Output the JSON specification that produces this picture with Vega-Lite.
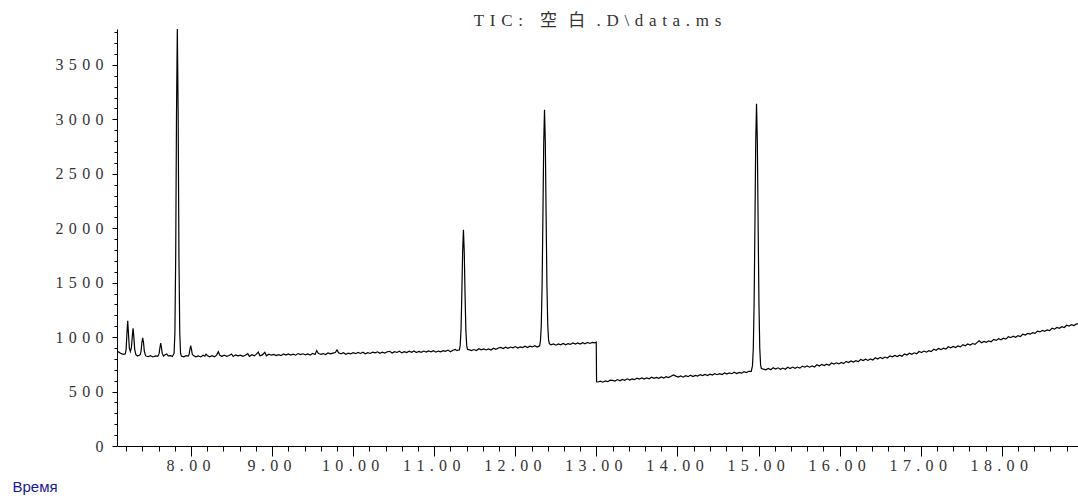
{
  "$schema": "https://vega.github.io/schema/vega-lite/v6.json",
  "width": 961,
  "height": 417,
  "autosize": {"type": "none"},
  "padding": {"left": 117, "top": 29, "right": 0, "bottom": 50},
  "background": "white",
  "title": {
    "text": "T\u2004I\u2004C\u2004:\u2004\u2004\u2004空\u2004\u2004白\u2004\u2004.\u2004D\u2004\\\u2004d\u2004a\u2004t\u2004a\u2004.\u2004m\u2004s",
    "font": "Liberation Serif, Noto Sans CJK JP",
    "fontSize": 17,
    "fontWeight": "normal",
    "color": "#333333",
    "anchor": "middle",
    "frame": "group",
    "offset": -1
  },
  "config": {
    "view": {"stroke": null},
    "axis": {
      "grid": false,
      "domainColor": "#000000",
      "tickColor": "#000000",
      "domainWidth": 1,
      "tickWidth": 1,
      "labelFont": "Liberation Serif",
      "labelFontSize": 16,
      "labelColor": "#333333"
    }
  },
  "data": {
    "values": [
      {"t":7.09,"v":868},{"t":7.11,"v":862},{"t":7.13,"v":852},{"t":7.15,"v":846},{"t":7.17,"v":842},
      {"t":7.189,"v":846},{"t":7.199,"v":882},{"t":7.209,"v":1026},{"t":7.219,"v":1149},{"t":7.229,"v":1026},
      {"t":7.239,"v":900},{"t":7.252,"v":868},{"t":7.265,"v":905},{"t":7.275,"v":1000},{"t":7.285,"v":1082},
      {"t":7.295,"v":1000},{"t":7.305,"v":890},{"t":7.32,"v":838},{"t":7.34,"v":826},{"t":7.36,"v":834},
      {"t":7.374,"v":840},{"t":7.384,"v":872},{"t":7.394,"v":950},{"t":7.404,"v":993},{"t":7.414,"v":950},
      {"t":7.424,"v":870},{"t":7.44,"v":828},{"t":7.47,"v":820},{"t":7.50,"v":830},{"t":7.53,"v":818},
      {"t":7.56,"v":828},{"t":7.59,"v":824},{"t":7.606,"v":848},{"t":7.616,"v":900},{"t":7.626,"v":944},
      {"t":7.636,"v":900},{"t":7.646,"v":848},{"t":7.66,"v":826},{"t":7.68,"v":838},{"t":7.70,"v":845},
      {"t":7.72,"v":828},{"t":7.75,"v":830},{"t":7.77,"v":822},{"t":7.791,"v":852},{"t":7.801,"v":1035},
      {"t":7.811,"v":1748},{"t":7.821,"v":3060},{"t":7.831,"v":3830},{"t":7.841,"v":3060},{"t":7.851,"v":1748},
      {"t":7.861,"v":1035},{"t":7.871,"v":852},{"t":7.881,"v":826},{"t":7.91,"v":819},{"t":7.94,"v":829},
      {"t":7.965,"v":826},{"t":7.976,"v":840},{"t":7.986,"v":885},{"t":7.996,"v":922},{"t":8.006,"v":885},
      {"t":8.016,"v":842},{"t":8.03,"v":830},{"t":8.06,"v":819},{"t":8.09,"v":828},{"t":8.12,"v":818},
      {"t":8.15,"v":833},{"t":8.17,"v":824},{"t":8.185,"v":843},{"t":8.20,"v":831},{"t":8.23,"v":820},
      {"t":8.26,"v":829},{"t":8.29,"v":819},{"t":8.315,"v":835},{"t":8.337,"v":867},{"t":8.355,"v":832},
      {"t":8.38,"v":823},{"t":8.41,"v":834},{"t":8.44,"v":823},{"t":8.47,"v":831},{"t":8.50,"v":845},
      {"t":8.52,"v":822},{"t":8.55,"v":837},{"t":8.58,"v":828},{"t":8.61,"v":835},{"t":8.64,"v":824},
      {"t":8.67,"v":833},{"t":8.70,"v":848},{"t":8.72,"v":823},{"t":8.75,"v":839},{"t":8.78,"v":828},
      {"t":8.80,"v":839},{"t":8.83,"v":862},{"t":8.85,"v":829},{"t":8.88,"v":837},{"t":8.91,"v":860},
      {"t":8.93,"v":828},{"t":8.96,"v":843},{"t":8.99,"v":834},{"t":9.02,"v":841},{"t":9.05,"v":831},
      {"t":9.08,"v":839},{"t":9.11,"v":830},{"t":9.14,"v":845},{"t":9.17,"v":835},{"t":9.20,"v":845},
      {"t":9.23,"v":835},{"t":9.26,"v":843},{"t":9.29,"v":834},{"t":9.32,"v":849},{"t":9.35,"v":840},
      {"t":9.38,"v":847},{"t":9.41,"v":837},{"t":9.44,"v":845},{"t":9.47,"v":836},{"t":9.50,"v":851},
      {"t":9.53,"v":841},{"t":9.55,"v":876},{"t":9.57,"v":851},{"t":9.60,"v":841},{"t":9.63,"v":849},
      {"t":9.66,"v":840},{"t":9.69,"v":855},{"t":9.72,"v":846},{"t":9.75,"v":853},{"t":9.78,"v":859},
      {"t":9.80,"v":882},{"t":9.82,"v":856},{"t":9.85,"v":846},{"t":9.88,"v":857},{"t":9.91,"v":843},
      {"t":9.94,"v":853},{"t":9.97,"v":846},{"t":10.00,"v":857},{"t":10.03,"v":848},{"t":10.06,"v":859},
      {"t":10.09,"v":850},{"t":10.12,"v":861},{"t":10.15,"v":847},{"t":10.18,"v":857},{"t":10.21,"v":850},
      {"t":10.24,"v":861},{"t":10.27,"v":855},{"t":10.30,"v":865},{"t":10.33,"v":851},{"t":10.36,"v":861},
      {"t":10.39,"v":854},{"t":10.42,"v":865},{"t":10.45,"v":870},{"t":10.48,"v":854},{"t":10.51,"v":866},
      {"t":10.54,"v":859},{"t":10.57,"v":870},{"t":10.60,"v":855},{"t":10.63,"v":866},{"t":10.66,"v":858},
      {"t":10.69,"v":870},{"t":10.72,"v":860},{"t":10.75,"v":872},{"t":10.78,"v":858},{"t":10.81,"v":868},
      {"t":10.84,"v":861},{"t":10.87,"v":872},{"t":10.90,"v":863},{"t":10.93,"v":874},{"t":10.96,"v":865},
      {"t":10.99,"v":876},{"t":11.02,"v":862},{"t":11.05,"v":872},{"t":11.08,"v":865},{"t":11.11,"v":876},
      {"t":11.14,"v":870},{"t":11.17,"v":881},{"t":11.20,"v":866},{"t":11.23,"v":880},{"t":11.26,"v":888},
      {"t":11.28,"v":876},{"t":11.30,"v":882},{"t":11.31,"v":883},{"t":11.32,"v":924},{"t":11.33,"v":1064},
      {"t":11.34,"v":1386},{"t":11.35,"v":1785},{"t":11.36,"v":1985},{"t":11.37,"v":1785},{"t":11.38,"v":1386},
      {"t":11.39,"v":1064},{"t":11.40,"v":924},{"t":11.41,"v":886},{"t":11.43,"v":885},{"t":11.46,"v":876},
      {"t":11.49,"v":886},{"t":11.52,"v":877},{"t":11.55,"v":893},{"t":11.58,"v":884},{"t":11.61,"v":892},
      {"t":11.64,"v":882},{"t":11.67,"v":891},{"t":11.70,"v":882},{"t":11.73,"v":898},{"t":11.76,"v":888},
      {"t":11.79,"v":900},{"t":11.82,"v":906},{"t":11.85,"v":895},{"t":11.88,"v":908},{"t":11.91,"v":897},
      {"t":11.94,"v":909},{"t":11.97,"v":901},{"t":12.00,"v":913},{"t":12.03,"v":899},{"t":12.06,"v":911},
      {"t":12.09,"v":904},{"t":12.12,"v":916},{"t":12.15,"v":905},{"t":12.18,"v":917},{"t":12.21,"v":910},
      {"t":12.24,"v":922},{"t":12.27,"v":909},{"t":12.30,"v":920},{"t":12.31,"v":968},{"t":12.32,"v":1106},
      {"t":12.33,"v":1464},{"t":12.34,"v":2092},{"t":12.35,"v":2778},{"t":12.36,"v":3088},{"t":12.37,"v":2780},
      {"t":12.38,"v":2095},{"t":12.39,"v":1470},{"t":12.40,"v":1110},{"t":12.41,"v":975},{"t":12.42,"v":940},
      {"t":12.44,"v":930},{"t":12.47,"v":937},{"t":12.50,"v":926},{"t":12.53,"v":938},{"t":12.56,"v":930},
      {"t":12.59,"v":942},{"t":12.62,"v":929},{"t":12.65,"v":940},{"t":12.68,"v":933},{"t":12.71,"v":947},
      {"t":12.74,"v":937},{"t":12.77,"v":947},{"t":12.80,"v":936},{"t":12.83,"v":948},{"t":12.86,"v":939},
      {"t":12.89,"v":952},{"t":12.92,"v":942},{"t":12.95,"v":951},{"t":12.98,"v":947},{"t":12.998,"v":955},
      {"t":13.002,"v":590},{"t":13.02,"v":588},{"t":13.05,"v":596},{"t":13.08,"v":586},{"t":13.11,"v":598},
      {"t":13.14,"v":591},{"t":13.17,"v":604},{"t":13.20,"v":602},{"t":13.23,"v":597},{"t":13.26,"v":610},
      {"t":13.29,"v":599},{"t":13.32,"v":612},{"t":13.35,"v":604},{"t":13.38,"v":617},{"t":13.41,"v":605},
      {"t":13.44,"v":616},{"t":13.47,"v":609},{"t":13.50,"v":623},{"t":13.53,"v":614},{"t":13.56,"v":625},
      {"t":13.59,"v":614},{"t":13.62,"v":626},{"t":13.65,"v":617},{"t":13.68,"v":631},{"t":13.71,"v":621},
      {"t":13.74,"v":630},{"t":13.77,"v":621},{"t":13.80,"v":634},{"t":13.83,"v":624},{"t":13.86,"v":636},
      {"t":13.89,"v":628},{"t":13.92,"v":640},{"t":13.95,"v":652},{"t":13.98,"v":642},{"t":14.01,"v":633},
      {"t":14.04,"v":643},{"t":14.07,"v":632},{"t":14.10,"v":645},{"t":14.13,"v":637},{"t":14.16,"v":650},
      {"t":14.19,"v":638},{"t":14.22,"v":649},{"t":14.25,"v":642},{"t":14.28,"v":656},{"t":14.31,"v":647},
      {"t":14.34,"v":658},{"t":14.37,"v":647},{"t":14.40,"v":660},{"t":14.43,"v":651},{"t":14.46,"v":665},
      {"t":14.49,"v":655},{"t":14.52,"v":665},{"t":14.55,"v":656},{"t":14.58,"v":670},{"t":14.61,"v":660},
      {"t":14.64,"v":672},{"t":14.67,"v":664},{"t":14.70,"v":677},{"t":14.73,"v":665},{"t":14.76,"v":676},
      {"t":14.79,"v":669},{"t":14.82,"v":683},{"t":14.85,"v":675},{"t":14.88,"v":686},{"t":14.91,"v":686},
      {"t":14.925,"v":738},{"t":14.935,"v":895},{"t":14.945,"v":1300},{"t":14.955,"v":2013},{"t":14.965,"v":2792},
      {"t":14.975,"v":3143},{"t":14.985,"v":2792},{"t":14.995,"v":2013},{"t":15.005,"v":1300},{"t":15.015,"v":895},
      {"t":15.025,"v":745},{"t":15.035,"v":712},{"t":15.06,"v":706},{"t":15.09,"v":700},{"t":15.12,"v":712},
      {"t":15.15,"v":700},{"t":15.18,"v":719},{"t":15.21,"v":707},{"t":15.24,"v":718},{"t":15.27,"v":705},
      {"t":15.30,"v":716},{"t":15.33,"v":705},{"t":15.36,"v":723},{"t":15.39,"v":712},{"t":15.42,"v":725},
      {"t":15.45,"v":713},{"t":15.48,"v":725},{"t":15.51,"v":715},{"t":15.54,"v":734},{"t":15.57,"v":724},
      {"t":15.60,"v":735},{"t":15.63,"v":724},{"t":15.66,"v":736},{"t":15.69,"v":726},{"t":15.72,"v":746},
      {"t":15.75,"v":735},{"t":15.78,"v":750},{"t":15.81,"v":739},{"t":15.84,"v":752},{"t":15.87,"v":742},
      {"t":15.90,"v":762},{"t":15.93,"v":752},{"t":15.96,"v":764},{"t":15.99,"v":754},{"t":16.02,"v":767},
      {"t":16.05,"v":757},{"t":16.08,"v":777},{"t":16.11,"v":766},{"t":16.14,"v":781},{"t":16.17,"v":771},
      {"t":16.20,"v":784},{"t":16.23,"v":775},{"t":16.26,"v":794},{"t":16.29,"v":785},{"t":16.32,"v":797},
      {"t":16.35,"v":786},{"t":16.38,"v":799},{"t":16.41,"v":790},{"t":16.44,"v":810},{"t":16.47,"v":799},
      {"t":16.50,"v":814},{"t":16.53,"v":804},{"t":16.56,"v":817},{"t":16.59,"v":808},{"t":16.62,"v":828},
      {"t":16.65,"v":819},{"t":16.68,"v":831},{"t":16.71,"v":821},{"t":16.74,"v":834},{"t":16.77,"v":825},
      {"t":16.80,"v":846},{"t":16.83,"v":836},{"t":16.86,"v":852},{"t":16.89,"v":842},{"t":16.92,"v":856},
      {"t":16.95,"v":847},{"t":16.98,"v":868},{"t":17.01,"v":859},{"t":17.04,"v":872},{"t":17.07,"v":862},
      {"t":17.10,"v":876},{"t":17.13,"v":867},{"t":17.16,"v":888},{"t":17.19,"v":879},{"t":17.22,"v":895},
      {"t":17.25,"v":885},{"t":17.28,"v":899},{"t":17.31,"v":890},{"t":17.34,"v":911},{"t":17.37,"v":902},
      {"t":17.40,"v":915},{"t":17.43,"v":905},{"t":17.46,"v":919},{"t":17.49,"v":910},{"t":17.52,"v":931},
      {"t":17.55,"v":921},{"t":17.58,"v":937},{"t":17.61,"v":927},{"t":17.64,"v":941},{"t":17.67,"v":933},
      {"t":17.70,"v":954},{"t":17.72,"v":966},{"t":17.75,"v":948},{"t":17.78,"v":961},{"t":17.81,"v":952},
      {"t":17.84,"v":966},{"t":17.87,"v":958},{"t":17.90,"v":979},{"t":17.93,"v":970},{"t":17.96,"v":985},
      {"t":17.99,"v":976},{"t":18.02,"v":990},{"t":18.05,"v":982},{"t":18.08,"v":1003},{"t":18.11,"v":995},
      {"t":18.14,"v":1008},{"t":18.17,"v":999},{"t":18.20,"v":1013},{"t":18.23,"v":1006},{"t":18.26,"v":1027},
      {"t":18.29,"v":1019},{"t":18.32,"v":1035},{"t":18.35,"v":1027},{"t":18.38,"v":1041},{"t":18.41,"v":1034},
      {"t":18.44,"v":1055},{"t":18.47,"v":1048},{"t":18.50,"v":1061},{"t":18.53,"v":1053},{"t":18.56,"v":1067},
      {"t":18.59,"v":1060},{"t":18.62,"v":1081},{"t":18.65,"v":1073},{"t":18.68,"v":1089},{"t":18.71,"v":1081},
      {"t":18.74,"v":1095},{"t":18.77,"v":1088},{"t":18.80,"v":1109},{"t":18.83,"v":1102},{"t":18.86,"v":1115},
      {"t":18.89,"v":1107},{"t":18.92,"v":1121},{"t":18.94,"v":1122}
    ]
  },
  "layer": [
    {
      "mark": {"type": "line", "color": "#000000", "strokeWidth": 1.2, "clip": true},
      "encoding": {
        "x": {
          "field": "t", "type": "quantitative",
          "scale": {"domain": [7.087, 18.94], "nice": false, "zero": false},
          "axis": {
            "orient": "bottom",
            "values": [8, 9, 10, 11, 12, 13, 14, 15, 16, 17, 18],
            "tickSize": 10,
            "labelPadding": 1,
            "labelOffset": -3,
            "labelExpr": "join(split(format(datum.value, '.2f'), ''), '\u2004')",
            "title": "Время",
            "titleFont": "Liberation Sans",
            "titleFontSize": 15,
            "titleFontWeight": "normal",
            "titleColor": "#1a1a99",
            "titleAlign": "left",
            "titleBaseline": "alphabetic",
            "titleX": -105,
            "titleY": 45
          }
        },
        "y": {
          "field": "v", "type": "quantitative",
          "scale": {"domain": [0, 3830], "nice": false, "zero": true},
          "axis": {
            "orient": "left",
            "values": [0, 500, 1000, 1500, 2000, 2500, 3000, 3500],
            "tickSize": 5,
            "labelPadding": 9,
            "labelExpr": "join(split(format(datum.value, 'd'), ''), '\u2004')",
            "title": null
          }
        }
      }
    },
    {
      "mark": {"type": "line", "strokeOpacity": 0},
      "encoding": {
        "x": {
          "field": "t", "type": "quantitative",
          "axis": {
            "orient": "bottom",
            "values": [7.2, 7.4, 7.6, 7.8, 8.2, 8.4, 8.6, 8.8, 9.2, 9.4, 9.6, 9.8, 10.2, 10.4, 10.6, 10.8, 11.2, 11.4, 11.6, 11.8, 12.2, 12.4, 12.6, 12.8, 13.2, 13.4, 13.6, 13.8, 14.2, 14.4, 14.6, 14.8, 15.2, 15.4, 15.6, 15.8, 16.2, 16.4, 16.6, 16.8, 17.2, 17.4, 17.6, 17.8, 18.2, 18.4, 18.6, 18.8],
            "tickSize": 5,
            "labels": false,
            "domain": false,
            "title": null
          }
        },
        "y": {
          "field": "v", "type": "quantitative",
          "axis": {
            "orient": "left",
            "values": [100, 200, 300, 400, 600, 700, 800, 900, 1100, 1200, 1300, 1400, 1600, 1700, 1800, 1900, 2100, 2200, 2300, 2400, 2600, 2700, 2800, 2900, 3100, 3200, 3300, 3400, 3600, 3700, 3800],
            "tickSize": 3,
            "labels": false,
            "domain": false,
            "title": null
          }
        }
      }
    }
  ],
  "resolve": {"axis": {"x": "independent", "y": "independent"}}
}
